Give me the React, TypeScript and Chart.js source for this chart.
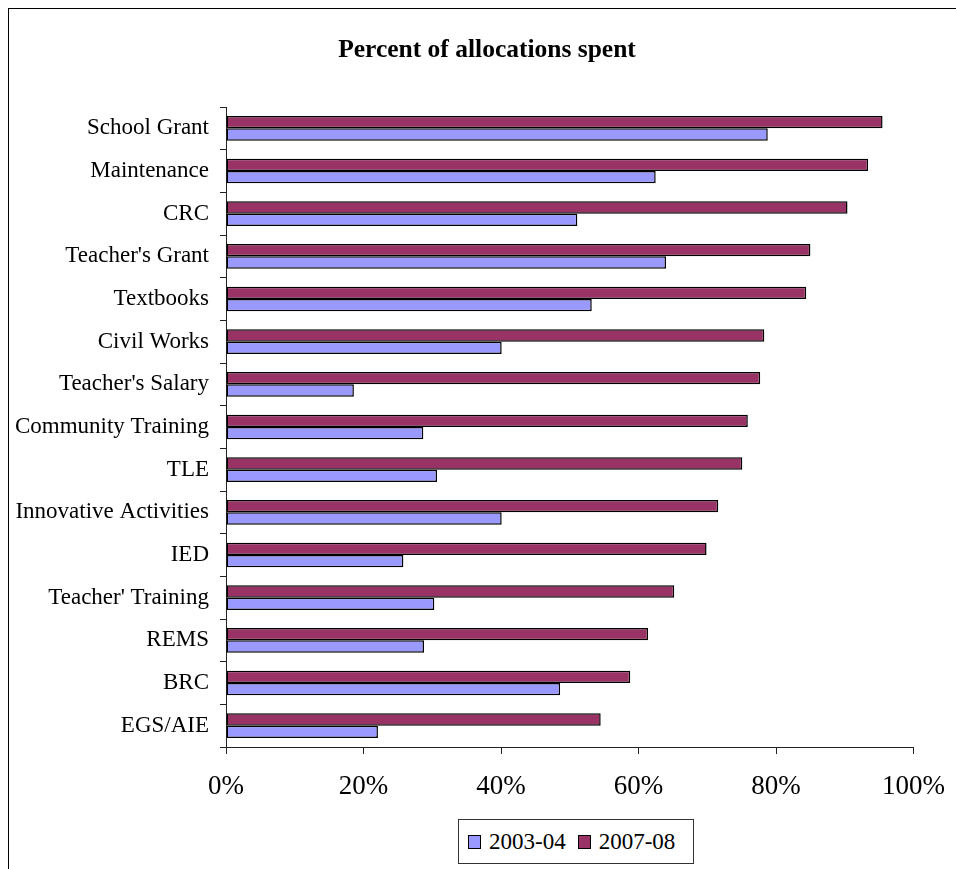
import React, { useEffect, useRef } from 'react';
import { Chart, registerables } from 'chart.js';

Chart.register(...registerables);

// categories top to bottom
const categories = [
  'School Grant',
  'Maintenance',
  'CRC',
  "Teacher's Grant",
  'Textbooks',
  'Civil Works',
  "Teacher's Salary",
  'Community Training',
  'TLE',
  'Innovative Activities',
  'IED',
  "Teacher' Training",
  'REMS',
  'BRC',
  'EGS/AIE',
];

const spent2007 = [95.5, 93.4, 90.4, 85.0, 84.4, 78.3, 77.7, 75.9, 75.1, 71.6, 69.9, 65.2, 61.4, 58.8, 54.5];
const spent2003 = [78.8, 62.5, 51.1, 64.0, 53.2, 40.1, 18.6, 28.7, 30.7, 40.1, 25.8, 30.3, 28.8, 48.6, 22.1];

const xTicks = [0, 20, 40, 60, 80, 100];

const seriesNames = ['2003-04', '2007-08'];
const seriesColors = ['#9999FF', '#993366'];

const SERIF = '"Liberation Serif", "Times New Roman", serif';

const ChartCanvas: React.FC = () => {
  const canvasRef = useRef<HTMLCanvasElement | null>(null);

  useEffect(() => {
    if (!canvasRef.current) return;
    const chart = new Chart(canvasRef.current, {
      type: 'bar',
      data: {
        labels: categories,
        datasets: [
          {
            label: seriesNames[1],
            data: spent2007,
            backgroundColor: seriesColors[1],
            borderColor: '#000',
            borderWidth: 1.5,
            borderSkipped: false,
          },
          {
            label: seriesNames[0],
            data: spent2003,
            backgroundColor: seriesColors[0],
            borderColor: '#000',
            borderWidth: 1.5,
            borderSkipped: false,
          },
        ],
      },
      options: {
        indexAxis: 'y',
        responsive: false,
        animation: false,
        devicePixelRatio: 1,
        // right inset of the plot comes from the 100% label + tick padding
        layout: { padding: { left: 0, right: 0, top: 0, bottom: 52 } },
        datasets: {
          bar: { categoryPercentage: 0.578, barPercentage: 1 },
        },
        plugins: {
          legend: { display: false },
          tooltip: { enabled: false },
          title: {
            display: true,
            text: 'Percent of allocations spent',
            color: '#000',
            font: { family: SERIF, size: 25.5, weight: 'bold' },
            padding: { top: 26.2, bottom: 41.2 },
          },
        },
        scales: {
          x: {
            min: 0,
            max: 100,
            afterBuildTicks: scale => {
              scale.ticks = xTicks.map(v => ({ value: v }));
            },
            afterFit: scale => {
              scale.height = 70;
            },
            border: { display: true, color: '#222', width: 1 },
            grid: { drawOnChartArea: false, drawTicks: true, tickLength: 7, color: '#222' },
            ticks: {
              color: '#000',
              padding: 20,
              font: { family: SERIF, size: 27, lineHeight: 0.94 },
              callback: v => `${v}%`,
            },
          },
          y: {
            afterFit: scale => {
              scale.width = 217;
            },
            border: { display: true, color: '#222', width: 1 },
            grid: { offset: true, drawOnChartArea: false, drawTicks: true, tickLength: 6, color: '#222' },
            ticks: {
              color: '#000',
              padding: 11,
              autoSkip: false,
              font: { family: SERIF, size: 23 },
            },
          },
        },
      },
    });

    return () => {
      chart.destroy();
    };
  }, []);

  return (
    <canvas
      ref={canvasRef}
      width={956}
      height={860}
      style={{ position: 'absolute', left: 0, top: 0, width: 956, height: 860 }}
    />
  );
};

const Legend: React.FC = () => (
  <div
    style={{
      position: 'absolute',
      left: 449,
      top: 810,
      width: 236,
      height: 45,
      boxSizing: 'border-box',
      border: '1px solid #333',
      display: 'flex',
      alignItems: 'center',
      paddingLeft: 9,
      fontFamily: SERIF,
      fontSize: 23,
      color: '#000',
      background: '#fff',
    }}
  >
    {seriesNames.map((name, i) => (
      <div key={name} style={{ display: 'flex', alignItems: 'center', marginRight: i === 0 ? 12 : 0 }}>
        <span
          style={{
            display: 'inline-block',
            width: 13,
            height: 14,
            boxSizing: 'border-box',
            border: '1.5px solid #000',
            background: seriesColors[i],
            marginRight: 8,
          }}
        />
        <span style={{ lineHeight: '24px' }}>{name}</span>
      </div>
    ))}
  </div>
);

export default function App() {
  return (
    <div
      style={{
        position: 'fixed',
        left: 8,
        top: 8,
        width: 948,
        height: 861,
        boxSizing: 'border-box',
        borderTop: '1px solid #000',
        borderLeft: '1px solid #000',
        background: '#fff',
        overflow: 'hidden',
      }}
    >
      <ChartCanvas />
      <Legend />
    </div>
  );
}
